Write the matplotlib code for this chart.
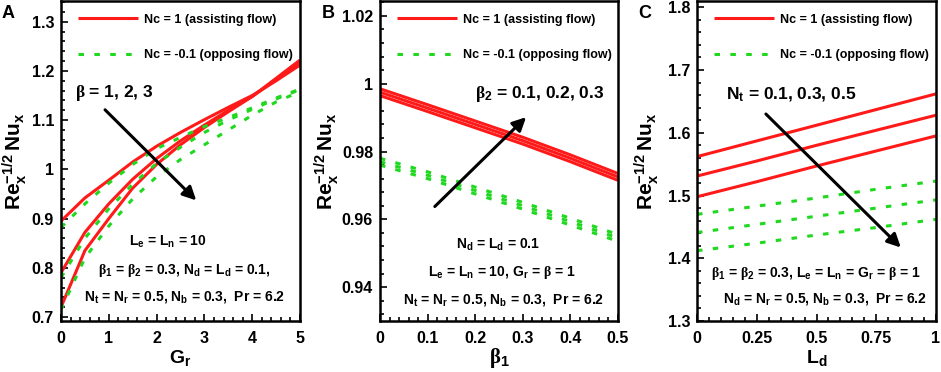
import matplotlib
matplotlib.use("Agg")
import matplotlib.pyplot as plt
from matplotlib.ticker import MultipleLocator, FuncFormatter

plt.rcParams['font.family'] = ['Liberation Sans', 'DejaVu Sans']
plt.rcParams['font.weight'] = 'bold'
plt.rcParams['mathtext.fontset'] = 'custom'
plt.rcParams['mathtext.bf'] = 'Liberation Sans:bold'
plt.rcParams['mathtext.rm'] = 'Liberation Serif'
plt.rcParams['mathtext.it'] = 'Liberation Sans:italic'
plt.rcParams['mathtext.sf'] = 'Liberation Sans'

# ---------------- data ----------------
# Panel A: Re^-1/2 Nu vs Gr for beta = 1, 2, 3
gr = [0, 0.5, 1, 1.5, 2, 2.5, 3, 3.5, 4, 4.5, 5]
a_red_b1 = [0.895, 0.942, 0.978, 1.015, 1.047, 1.075, 1.101, 1.126, 1.150, 1.180, 1.212]
a_red_b2 = [0.790, 0.872, 0.930, 0.980, 1.022, 1.058, 1.090, 1.120, 1.148, 1.182, 1.218]
a_red_b3 = [0.720, 0.835, 0.900, 0.962, 1.010, 1.050, 1.085, 1.117, 1.148, 1.185, 1.222]
a_grn_b1 = [0.882, 0.930, 0.972, 1.010, 1.042, 1.065, 1.087, 1.105, 1.125, 1.145, 1.163]
a_grn_b2 = [0.780, 0.860, 0.920, 0.970, 1.012, 1.045, 1.075, 1.100, 1.122, 1.143, 1.162]
a_grn_b3 = [0.715, 0.820, 0.885, 0.940, 0.985, 1.020, 1.050, 1.080, 1.110, 1.137, 1.158]

# Panel B: vs beta1 for beta2 = 0.1, 0.2, 0.3
beta1 = [0, 0.1, 0.2, 0.3, 0.4, 0.5]
b_red_1 = [0.9985, 0.9938, 0.9890, 0.9842, 0.9790, 0.9735]
b_red_2 = [0.9975, 0.9928, 0.9880, 0.9832, 0.9780, 0.9725]
b_red_3 = [0.9965, 0.9918, 0.9870, 0.9822, 0.9770, 0.9715]
b_grn_1 = [0.9780, 0.9740, 0.9695, 0.9650, 0.9603, 0.9555]
b_grn_2 = [0.9770, 0.9730, 0.9685, 0.9640, 0.9593, 0.9545]
b_grn_3 = [0.9760, 0.9720, 0.9675, 0.9630, 0.9583, 0.9535]

# Panel C: vs Ld for Nt = 0.1, 0.3, 0.5
ld = [0, 0.25, 0.5, 0.75, 1]
c_red_1 = [1.562, 1.587, 1.612, 1.637, 1.662]
c_red_2 = [1.531, 1.555, 1.580, 1.604, 1.628]
c_red_3 = [1.498, 1.522, 1.547, 1.571, 1.595]
c_grn_1 = [1.470, 1.483, 1.496, 1.510, 1.523]
c_grn_2 = [1.441, 1.454, 1.467, 1.480, 1.493]
c_grn_3 = [1.412, 1.424, 1.437, 1.449, 1.462]

legend_labels = ["Nc = 1 (assisting flow)", "Nc = -0.1 (opposing flow)"]

# ---------------- figure ----------------
W, H = 941, 372
fig = plt.figure(figsize=(W / 100, H / 100), dpi=100)

def px_axes(l, r, t, b):
    return fig.add_axes([l / W, 1 - b / H, (r - l) / W, (b - t) / H])

axA = px_axes(61, 300, 1, 321)
axB = px_axes(380, 618, 1, 321)
axC = px_axes(697, 936, 1, 321)

RED = '#ff1a1a'
GRN = '#1fd81f'
LW = 2.2
DASH = (1.8, 3.4)

def fmt(v, p):
    return f"{round(v, 4):g}"

def style(ax, xlim, ylim, xmaj, xmin, ymaj, ymin):
    ax.set_xlim(*xlim)
    ax.set_ylim(*ylim)
    ax.xaxis.set_major_locator(MultipleLocator(xmaj))
    ax.xaxis.set_minor_locator(MultipleLocator(xmin))
    ax.yaxis.set_major_locator(MultipleLocator(ymaj))
    ax.yaxis.set_minor_locator(MultipleLocator(ymin))
    ax.xaxis.set_major_formatter(FuncFormatter(fmt))
    ax.yaxis.set_major_formatter(FuncFormatter(fmt))
    ax.tick_params(which='both', direction='in', top=False, right=False,
                   width=1.2, labelsize=11.5)
    ax.tick_params(which='major', length=5)
    ax.tick_params(which='minor', length=3)
    ax.tick_params(axis='x', pad=7)
    ax.tick_params(axis='y', pad=5)
    for s in ax.spines.values():
        s.set_linewidth(1.8)
    for lab in ax.get_xticklabels() + ax.get_yticklabels():
        lab.set_fontweight('bold')

def curves(ax, x, reds, greens):
    hr = None
    hg = None
    for r in reds:
        hr, = ax.plot(x, r, color=RED, lw=LW, solid_capstyle='butt')
    for g in greens:
        hg, = ax.plot(x, g, color=GRN, lw=LW, dashes=DASH, dash_capstyle='butt')
    ax.legend([hr, hg], legend_labels, loc='upper left',
              bbox_to_anchor=(0.055, 0.972), frameon=False,
              prop={'size': 9, 'weight': 'bold'}, handlelength=4.8,
              handletextpad=0.5, labelspacing=1.9, borderpad=0.3,
              borderaxespad=0.0)

ylab = r"$\mathbf{Re}_{\mathbf{x}}^{\mathbf{-1/2}}\,\mathbf{Nu}_{\mathbf{x}}$"
YLS = 15
NOTE = 10
ARW = 12.5

# Panel A
curves(axA, gr, [a_red_b1, a_red_b2, a_red_b3], [a_grn_b1, a_grn_b2, a_grn_b3])
style(axA, (0, 5), (0.692, 1.342), 1, 0.2, 0.1, 0.02)
axA.set_xlabel(r"G$_\mathbf{r}$", fontsize=14, fontweight='bold', labelpad=2)
axA.set_ylabel(ylab, fontsize=YLS)
axA.yaxis.set_label_coords(-0.135, 0.5)
axA.annotate('', xy=(2.87, 0.933), xytext=(0.88, 1.125),
             arrowprops=dict(arrowstyle='-|>', color='k', lw=2.2, mutation_scale=20))
axA.text(0.29, 1.155, r"$\mathrm{\beta}$ = 1, 2, 3", fontsize=ARW, fontweight='bold', va='center', ha='left')
tA = dict(transform=axA.transAxes, fontsize=NOTE, fontweight='bold', ha='center', va='center')
axA.text(0.448, 0.247, r"L$_\mathbf{e}$ = L$_\mathbf{n}$ = 10", **tA)
axA.text(0.516, 0.159, r"$\mathrm{\beta}_\mathbf{1}$ = $\mathrm{\beta}_\mathbf{2}$ = 0.3, N$_\mathbf{d}$ = L$_\mathbf{d}$ = 0.1,", **tA)
axA.text(0.516, 0.075, r"N$_\mathbf{t}$ = N$_\mathbf{r}$ = 0.5, N$_\mathbf{b}$ = 0.3,  Pr = 6.2", **tA)
fig.text(2 / W, 1 - 14 / H, "A", fontsize=13, fontweight='bold', va='center', ha='left')

# Panel B
curves(axB, beta1, [b_red_1, b_red_2, b_red_3], [b_grn_1, b_grn_2, b_grn_3])
style(axB, (0, 0.5), (0.930, 1.0244), 0.1, 0.02, 0.02, 0.004)
axB.set_xlabel(r"$\mathrm{\beta}_\mathbf{1}$", fontsize=15, labelpad=0)
axB.set_ylabel(ylab, fontsize=YLS)
axB.yaxis.set_label_coords(-0.165, 0.5)
axB.annotate('', xy=(0.311, 0.9907), xytext=(0.111, 0.9632),
             arrowprops=dict(arrowstyle='-|>', color='k', lw=2.2, mutation_scale=20))
axB.text(0.20, 0.9969, r"$\mathrm{\beta}_\mathbf{2}$ = 0.1, 0.2, 0.3", fontsize=ARW, fontweight='bold', va='center', ha='left')
tB = dict(transform=axB.transAxes, fontsize=NOTE, fontweight='bold', ha='center', va='center')
axB.text(0.496, 0.2375, r"N$_\mathbf{d}$ = L$_\mathbf{d}$ = 0.1", **tB)
axB.text(0.513, 0.153, r"L$_\mathbf{e}$ = L$_\mathbf{n}$ = 10, G$_\mathbf{r}$ = $\mathrm{\beta}$ = 1", **tB)
axB.text(0.517, 0.066, r"N$_\mathbf{t}$ = N$_\mathbf{r}$ = 0.5, N$_\mathbf{b}$ = 0.3,  Pr = 6.2", **tB)
fig.text(322 / W, 1 - 14 / H, "B", fontsize=13, fontweight='bold', va='center', ha='left')

# Panel C
curves(axC, ld, [c_red_1, c_red_2, c_red_3], [c_grn_1, c_grn_2, c_grn_3])
style(axC, (0, 1), (1.3, 1.81), 0.25, 0.05, 0.1, 0.02)
axC.set_xlabel(r"L$_\mathbf{d}$", fontsize=14, fontweight='bold', labelpad=2)
axC.set_ylabel(ylab, fontsize=YLS)
axC.yaxis.set_label_coords(-0.15, 0.5)
axC.annotate('', xy=(0.861, 1.414), xytext=(0.28, 1.633),
             arrowprops=dict(arrowstyle='-|>', color='k', lw=2.2, mutation_scale=20))
axC.text(0.122, 1.661, r"N$_\mathbf{t}$ = 0.1, 0.3, 0.5", fontsize=ARW, fontweight='bold', va='center', ha='left')
tC = dict(transform=axC.transAxes, fontsize=NOTE, fontweight='bold', ha='center', va='center')
axC.text(0.498, 0.147, r"$\mathrm{\beta}_\mathbf{1}$ = $\mathrm{\beta}_\mathbf{2}$ = 0.3, L$_\mathbf{e}$ = L$_\mathbf{n}$ = G$_\mathbf{r}$ = $\mathrm{\beta}$ = 1", **tC)
axC.text(0.536, 0.069, r"N$_\mathbf{d}$ = N$_\mathbf{r}$ = 0.5, N$_\mathbf{b}$ = 0.3,  Pr = 6.2", **tC)
fig.text(638 / W, 1 - 14 / H, "C", fontsize=13, fontweight='bold', va='center', ha='left')

fig.savefig("out.png", dpi=100)
